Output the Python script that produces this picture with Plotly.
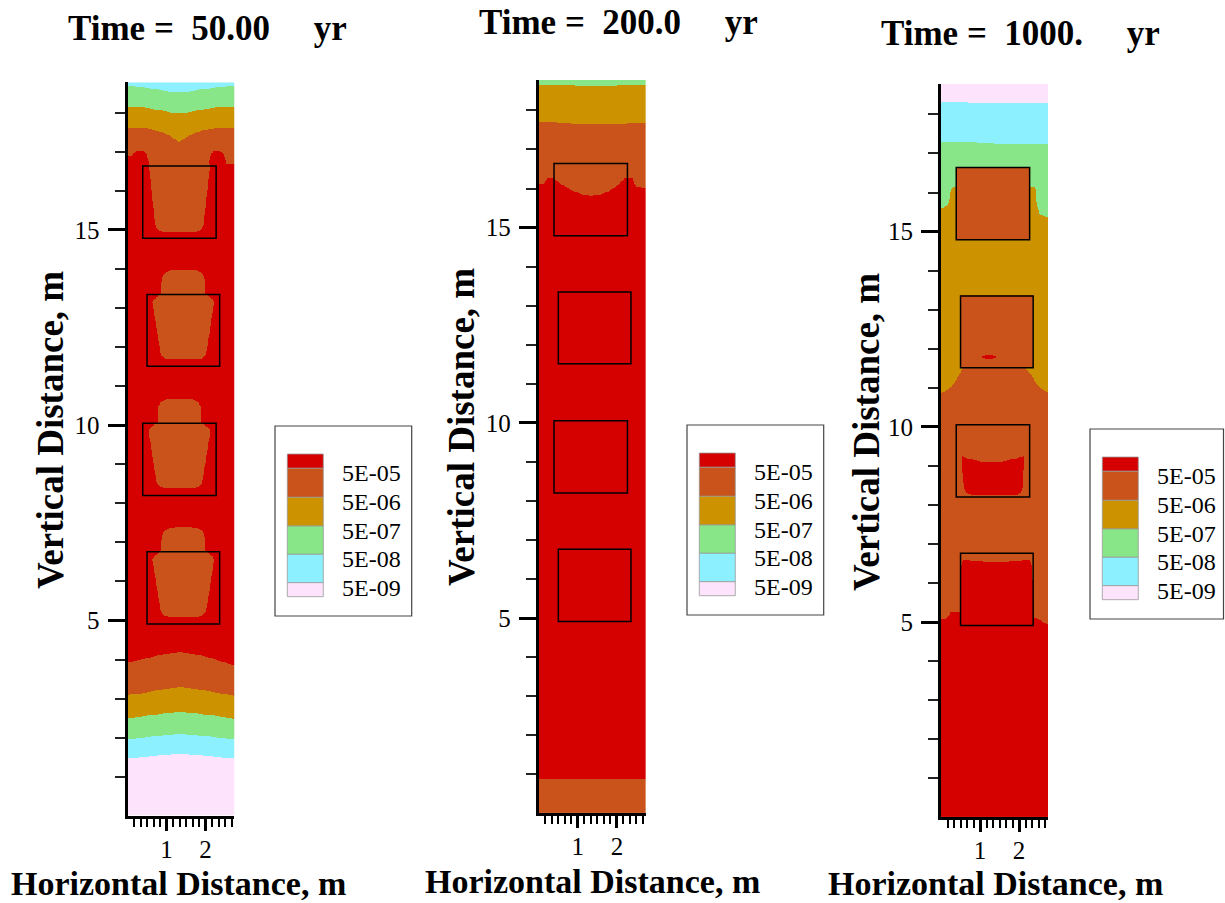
import numpy as np
import plotly.graph_objects as go

W, H = 1225, 903
XMAX, YMAX = 2.74, 18.78
S = 39.05  # px per metre (equal aspect)
FONT = "Liberation Serif"

# ---------------- data ----------------
# band colours, level 0 (lowest concentration) .. 5 (highest)
band_colors = ["#fde4fc", "#8cf0ff", "#88e588", "#cc9200", "#c9531a", "#d50000"]
legend_labels = ["5E-05", "5E-06", "5E-07", "5E-08", "5E-09"]
times = ["50.00", "200.0", "1000."]

# waste-package outlines (m)
box_x0 = [0.39, 0.50, 0.39, 0.50]
box_x1 = [2.27, 2.36, 2.27, 2.36]
box_y0 = [14.79, 11.51, 8.20, 4.91]
box_y1 = [16.64, 13.35, 10.05, 6.76]

# ---- panel 1 (50 yr) : contour-band boundaries ----
p1_x = [0.0, 0.45, 0.90, 1.35, 1.80, 2.30, 2.74]
p1_b1 = [1.47, 1.50, 1.54, 1.56, 1.54, 1.50, 1.46]
p1_b2 = [1.95, 1.99, 2.05, 2.08, 2.05, 1.99, 1.95]
p1_b3 = [2.49, 2.54, 2.61, 2.64, 2.61, 2.54, 2.48]
p1_b4 = [3.08, 3.14, 3.23, 3.28, 3.23, 3.14, 3.06]
p1_b5 = [3.92, 4.01, 4.13, 4.18, 4.12, 3.98, 3.84]
p1_t5_x = [0.0, 0.10, 0.16, 0.22, 0.33, 0.45, 0.50, 0.55, 0.57, 2.06, 2.09, 2.13, 2.20, 2.32, 2.44, 2.49, 2.53, 2.74]
p1_t5_y = [16.88, 16.89, 16.96, 17.01, 17.03, 17.00, 16.90, 16.70, 16.64, 16.64, 16.75, 16.92, 17.01, 17.03, 16.98, 16.85, 16.70, 16.68]
p1_t4_x = [0.0, 0.40, 0.80, 1.05, 1.20, 1.32, 1.45, 1.60, 1.90, 2.30, 2.74]
p1_t4_y = [17.63, 17.62, 17.53, 17.43, 17.33, 17.26, 17.33, 17.43, 17.55, 17.60, 17.60]
p1_t3_x = [0.0, 0.4, 0.8, 1.1, 1.32, 1.55, 1.9, 2.3, 2.74]
p1_t3_y = [18.16, 18.14, 18.07, 18.01, 17.99, 18.01, 18.08, 18.14, 18.16]
p1_t2_y = [18.68, 18.66, 18.59, 18.54, 18.52, 18.54, 18.60, 18.66, 18.68]
# bell-shaped 5E-06 plume inside packages 2-4 (offset from box top, half width)
bell_dy = [0.61, 0.60, 0.57, 0.52, 0.45, 0.36, 0.30, 0.02, -0.06, -0.13, -0.20, -1.49, -1.58, -1.64, -1.68]
bell_hw = [0.22, 0.34, 0.43, 0.49, 0.53, 0.55, 0.555, 0.56, 0.66, 0.75, 0.79, 0.59, 0.55, 0.48, 0.38]
# trapezoid inside package 1
trap_cx = 1.33
trap_dy = [0.05, 0.0, -0.10, -1.50, -1.60, -1.66, -1.70]
trap_hw = [0.79, 0.79, 0.77, 0.62, 0.58, 0.52, 0.42]

# ---- panel 2 (200 yr) ----
p2_b5_x = [0.0, 1.37, 2.74]
p2_b5_y = [0.87, 0.86, 0.85]
p2_t5_x = [0.0, 0.13, 0.18, 0.22, 0.36, 0.45, 0.60, 0.85, 1.10, 1.32, 1.55, 1.80, 2.00, 2.12, 2.22, 2.40, 2.44, 2.49, 2.74]
p2_t5_y = [16.11, 16.12, 16.20, 16.27, 16.28, 16.20, 16.09, 15.95, 15.85, 15.80, 15.83, 15.93, 16.06, 16.18, 16.28, 16.28, 16.15, 16.04, 16.02]
p2_tx = [0.0, 0.7, 1.37, 2.0, 2.74]
p2_t4_y = [17.71, 17.68, 17.63, 17.66, 17.69]
p2_t3_y = [18.66, 18.64, 18.61, 18.63, 18.65]

# ---- panel 3 (1000 yr) ----
p3_t5_x = [0.0, 0.10, 0.18, 0.24, 0.48, 0.51, 0.53, 0.58, 0.9, 1.40, 1.9, 2.26, 2.31, 2.34, 2.38, 2.45, 2.60, 2.74]
p3_t5_y = [5.06, 5.07, 5.13, 5.23, 5.23, 6.30, 6.52, 6.58, 6.56, 6.53, 6.56, 6.58, 6.50, 6.20, 5.10, 5.09, 5.00, 4.93]
p3_t4_x = [0.0, 0.19, 0.32, 0.40, 0.47, 0.57, 2.15, 2.33, 2.45, 2.58, 2.74]
p3_t4_y = [10.86, 10.96, 11.08, 11.21, 11.34, 11.51, 11.51, 11.30, 11.08, 10.96, 10.88]
p3_t3_x = [0.0, 0.06, 0.19, 0.25, 0.30, 0.385, 0.39, 2.27, 2.275, 2.41, 2.45, 2.53, 2.74]
p3_t3_y = [15.59, 15.60, 15.70, 16.05, 16.13, 16.13, 16.64, 16.64, 16.13, 16.13, 15.70, 15.43, 15.37]
p3_tx = [0.0, 0.7, 1.37, 2.0, 2.74]
p3_t2_y = [17.30, 17.28, 17.25, 17.24, 17.24]
p3_t1_y = [18.31, 18.31, 18.30, 18.30, 18.29]
# red cup in package 3
cup_y = [8.26, 8.30, 8.40, 8.60, 9.00, 9.25]
cup_xl = [0.80, 0.66, 0.60, 0.57, 0.54, 0.53]
cup_xr = [1.93, 2.04, 2.08, 2.10, 2.12, 2.13]
cup_top_x = [0.53, 0.70, 1.00, 1.30, 1.60, 1.90, 2.13]
cup_top_y = [9.24, 9.18, 9.11, 9.09, 9.11, 9.18, 9.24]
# small red lens in package 2
lens = dict(cx=1.23, cy=11.79, rx=0.185, ry=0.05)

# ---------------- grid ----------------
xc = np.arange(0.005, XMAX, 0.01)
yc = np.arange(0.01, YMAX, 0.02)
X, Y = np.meshgrid(xc, yc)


def curve(xs, ys):
    return np.interp(xc, xs, ys)[None, :]


def field(base, bottoms, tops):
    lb = base + sum((Y > c).astype(int) for c in bottoms) if bottoms else np.full(Y.shape, base)
    lt = 5 - sum((Y > c).astype(int) for c in tops)
    return np.minimum(lb, lt)


def profile_mask(cx, ytop, dys, hws):
    dys = np.asarray(dys)
    hws = np.asarray(hws)
    yy = Y - ytop
    hw = np.interp(yy, dys[::-1], hws[::-1])
    return (yy >= dys.min()) & (yy <= dys.max()) & (np.abs(X - cx) <= hw)


def rect_mask(i):
    return (X >= box_x0[i]) & (X <= box_x1[i]) & (Y >= box_y0[i]) & (Y <= box_y1[i])


# panel 1
Z1 = field(0, [curve(p1_x, b) for b in (p1_b1, p1_b2, p1_b3, p1_b4, p1_b5)],
           [curve(p1_t5_x, p1_t5_y), curve(p1_t4_x, p1_t4_y),
            curve(p1_t3_x, p1_t3_y), curve(p1_t3_x, p1_t2_y)])
Z1[profile_mask(trap_cx, box_y1[0], trap_dy, trap_hw)] = 4
for i in (1, 2, 3):
    cx = 0.5 * (box_x0[i] + box_x1[i])
    Z1[profile_mask(cx, box_y1[i], bell_dy, bell_hw)] = 4

# panel 2
Z2 = field(4, [curve(p2_b5_x, p2_b5_y)],
           [curve(p2_t5_x, p2_t5_y), curve(p2_tx, p2_t4_y), curve(p2_tx, p2_t3_y)])

# panel 3
Z3 = field(5, [],
           [curve(p3_t5_x, p3_t5_y), curve(p3_t4_x, p3_t4_y), curve(p3_t3_x, p3_t3_y),
            curve(p3_tx, p3_t2_y), curve(p3_tx, p3_t1_y)])
Z3[rect_mask(0)] = 4
Z3[rect_mask(1)] = 4
Z3[((X - lens["cx"]) / lens["rx"]) ** 2 + ((Y - lens["cy"]) / lens["ry"]) ** 2 <= 1] = 5
ycl = np.clip(Y, cup_y[0], cup_y[-1])
cup = ((Y >= cup_y[0]) & (Y <= np.interp(X, cup_top_x, cup_top_y))
       & (X >= np.interp(ycl, cup_y, cup_xl)) & (X <= np.interp(ycl, cup_y, cup_xr)))
Z3[cup] = 5

# ---------------- figure ----------------
cs = []
for k, c in enumerate(band_colors):
    cs += [[k / 6, c], [(k + 1) / 6, c]]

origins = [(127.5, 815.7), (538.8, 813.3), (941.0, 817.3)]
fig = go.Figure()

for p, Z in enumerate([Z1, Z2, Z3]):
    sfx = "" if p == 0 else str(p + 1)
    fig.add_trace(go.Heatmap(x=xc, y=yc, z=Z.tolist(), colorscale=cs, zmin=-0.5, zmax=5.5,
                             showscale=False, hoverinfo="skip", xaxis="x" + sfx, yaxis="y" + sfx))
    ox, oy = origins[p]
    xdom = [ox / W, (ox + XMAX * S) / W]
    ydom = [1 - oy / H, 1 - (oy - YMAX * S) / H]
    xminor = [k / 6 for k in range(1, 17) if k % 6 != 0 and k / 6 < XMAX]
    yminor = [v for v in range(1, 19) if v % 5 != 0]
    fig.layout["xaxis" + sfx] = dict(
        domain=xdom, range=[0, XMAX], anchor="y" + sfx, showline=True, linewidth=3,
        linecolor="black", showgrid=False, zeroline=False, ticks="outside",
        tickvals=[1, 2], ticktext=["1", "2"], ticklen=12, tickwidth=3, tickcolor="black",
        tickfont=dict(family=FONT, size=25, color="black"), ticklabelstandoff=-3,
        minor=dict(tickvals=xminor, ticks="outside", ticklen=8, tickwidth=1.5, tickcolor="black"),
        fixedrange=True)
    fig.layout["yaxis" + sfx] = dict(
        domain=ydom, range=[0, YMAX], anchor="x" + sfx, showline=True, linewidth=3,
        linecolor="black", showgrid=False, zeroline=False, ticks="outside",
        tickvals=[5, 10, 15], ticktext=["5", "10", "15"], ticklen=17, tickwidth=3,
        tickcolor="black", tickfont=dict(family=FONT, size=25, color="black"),
        ticklabelstandoff=3,
        minor=dict(tickvals=yminor, ticks="outside", ticklen=10, tickwidth=1.5, tickcolor="#222"),
        fixedrange=True)
    # package outlines
    for i in range(4):
        fig.add_shape(type="rect", xref="x" + sfx, yref="y" + sfx,
                      x0=box_x0[i], x1=box_x1[i], y0=box_y0[i], y1=box_y1[i],
                      line=dict(color="black", width=1.5))


def px(v):
    return v / W


def py(v):
    return 1 - v / H


# titles & axis titles
title_pos = [(207, 28), (618, 23), (1020, 33)]
xt_pos = [(178, 883), (592, 881), (995, 883)]
yt_pos = [(50, 430), (462, 427), (866, 432)]
for p in range(3):
    txt = "Time\u00a0=\u00a0\u00a0" + times[p] + "\u00a0\u00a0\u00a0\u00a0\u00a0yr"
    fig.add_annotation(x=px(title_pos[p][0]), y=py(title_pos[p][1]), xref="paper", yref="paper",
                       text="<b>" + txt + "</b>", showarrow=False, xanchor="center", yanchor="middle",
                       font=dict(family=FONT, size=35, color="black"))
    fig.add_annotation(x=px(xt_pos[p][0]), y=py(xt_pos[p][1]), xref="paper", yref="paper",
                       text="<b>Horizontal Distance, m</b>", showarrow=False, xanchor="center",
                       yanchor="middle", font=dict(family=FONT, size=34, color="black"))
    fig.add_annotation(x=px(yt_pos[p][0]), y=py(yt_pos[p][1]), xref="paper", yref="paper",
                       text="<b>Vertical Distance, m</b>", showarrow=False, xanchor="center",
                       yanchor="middle", textangle=-90, font=dict(family=FONT, size=37, color="black"))

# legends (drawn as boxes)
leg_dx = [0, 412, 815]
leg_dy = [0, -1, 3]
frame = [275, 426, 411.7, 616]
sw_x = [287.3, 323.3]
sw_y = [454, 468.3, 497.3, 526, 554.3, 582.7, 596.7]
for p in range(3):
    dx, dy = leg_dx[p], leg_dy[p]
    fx1 = min(frame[2] + dx, W - 1.5)
    fig.add_shape(type="rect", xref="paper", yref="paper",
                  x0=px(frame[0] + dx), x1=px(fx1), y0=py(frame[3] + dy), y1=py(frame[1] + dy),
                  line=dict(color="#444", width=1.2), fillcolor="white", layer="below")
    cols = band_colors[::-1]
    for k in range(6):
        fig.add_shape(type="rect", xref="paper", yref="paper",
                      x0=px(sw_x[0] + dx), x1=px(sw_x[1] + dx),
                      y0=py(sw_y[k + 1] + dy), y1=py(sw_y[k] + dy),
                      line=dict(color="#999", width=0.8), fillcolor=cols[k])
    for k, lab in enumerate(legend_labels):
        fig.add_annotation(x=px(340 + dx), y=py(sw_y[k + 1] + 5 + dy), xref="paper", yref="paper",
                           text=lab, showarrow=False, xanchor="left", yanchor="middle",
                           font=dict(family=FONT, size=24, color="black"))

fig.update_layout(width=W, height=H, margin=dict(l=0, r=0, t=0, b=0), autosize=False,
                  paper_bgcolor="white", plot_bgcolor="white", showlegend=False)
fig.write_html("out.html")
